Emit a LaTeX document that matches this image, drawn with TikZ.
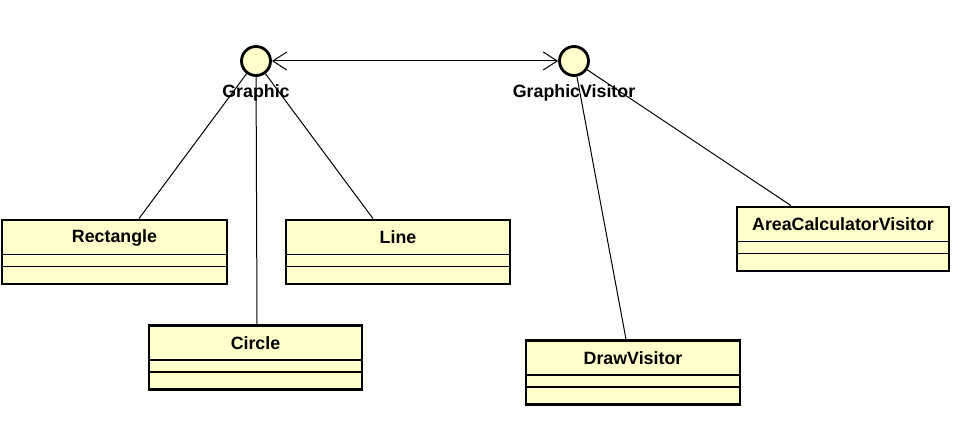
\documentclass[tikz,border=0pt]{standalone}
\usepackage{fontspec}
\setmainfont{Liberation Sans}
\usetikzlibrary{arrows.meta}
\definecolor{umlFill}{HTML}{FFFFCC}
\definecolor{umlBorder}{HTML}{000000}

\begin{document}
\begin{tikzpicture}[
        x=1pt, y=-1pt,
        classbox/.style={
            draw=umlBorder,
            fill=umlFill,
            line width=2.8pt,
            minimum height=64pt,
            inner sep=0pt
        },
        iface/.style={
            circle,
            draw=umlBorder,
            fill=umlFill,
            line width=2.8pt,
            minimum size=29pt,
            inner sep=0pt
        },
        title/.style={
            font=\fontsize{17.8}{20}\selectfont\bfseries,
            inner sep=0pt
        },
        divider/.style={
            line width=1.2pt,
            draw=umlBorder
        },
        link/.style={
            line width=1pt,
            draw=umlBorder
        },
        arrow/.style={
            {Straight Barb[length=14pt,width=18pt]}-{Straight Barb[length=14pt,width=18pt]},
            line width=1pt,
            draw=umlBorder
        }
    ]
    \useasboundingbox (0,0) rectangle (959,427);

    % interfaces
    \node[iface] (graphic) at (256,61) {};
    \node[iface] (visitor) at (574,61) {};
    \node[title] (graphicName) at (256,92.5) {Graphic};
    \node[title] (visitorName) at (574,92.5) {GraphicVisitor};

    % classes
    \node[classbox, minimum width=225pt] (rect) at (114.5,252) {};
    \node[classbox, minimum width=224pt] (line) at (398,252) {};
    \node[classbox, minimum width=213pt] (circ) at (255.5,357.5) {};
    \node[classbox, minimum width=214pt] (draw) at (633,372.5) {};
    \node[classbox, minimum width=212pt] (area) at (843,239) {};

    \foreach \c in {rect,line,circ,draw,area} {
        \draw[divider] ([yshift=-36pt]\c.north west) -- ([yshift=-36pt]\c.north east);
        \draw[divider] ([yshift=-48pt]\c.north west) -- ([yshift=-48pt]\c.north east);
    }

    \node[title] (rectName) at ([yshift=-19pt]rect.north) {Rectangle};
    \node[title] (lineName) at ([yshift=-19pt]line.north) {Line};
    \node[title] (circName) at ([yshift=-19pt]circ.north) {Circle};
    \node[title] (drawName) at ([yshift=-19pt]draw.north) {DrawVisitor};
    \node[title] (areaName) at ([yshift=-19pt]area.north) {AreaCalculatorVisitor};

    % connectors
    \draw[arrow] (graphic) -- (visitor);
    \draw[link] (graphic) -- ([xshift=24.5pt]rect.north);
    \draw[link] (graphic) -- ([xshift=1.5pt]circ.north);
    \draw[link] (graphic) -- ([xshift=-25pt]line.north);
    \draw[link] (visitor) -- ([xshift=-7pt]draw.north);
    \draw[link] (visitor) -- ([xshift=-52pt]area.north);

\end{tikzpicture}
\end{document}
